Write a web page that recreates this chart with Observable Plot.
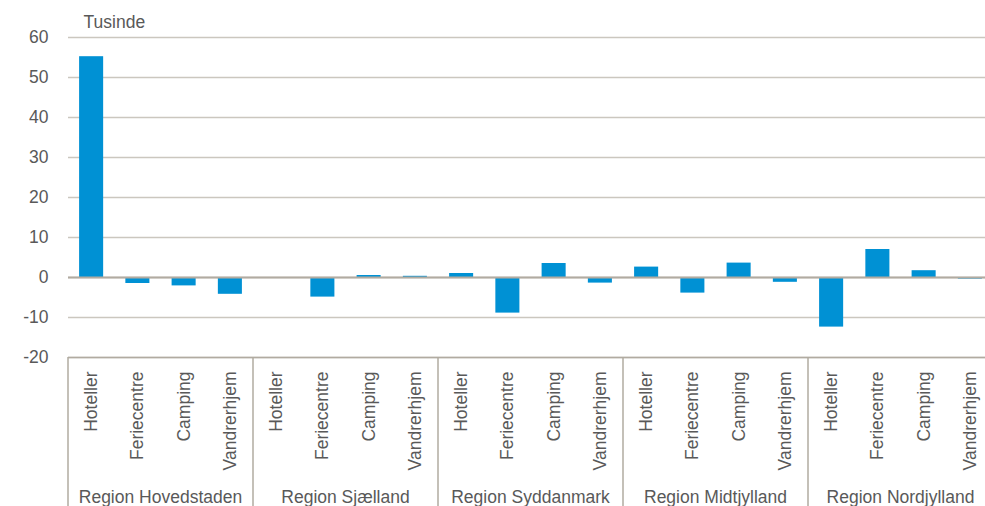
<!DOCTYPE html>
<html>
<head>
<meta charset="utf-8">
<script src="https://cdn.jsdelivr.net/npm/d3@7"></script>
<script src="https://cdn.jsdelivr.net/npm/@observablehq/plot@0.6"></script>
<style>
  html, body { margin: 0; padding: 0; background: #fff; overflow: hidden; }
</style>
</head>
<body>
<div id="chart"></div>
<script>
const regions = ["Region Hovedstaden", "Region Sjælland", "Region Syddanmark", "Region Midtjylland", "Region Nordjylland"];
const categories = ["Hoteller", "Feriecentre", "Camping", "Vandrerhjem"];
const hovedstaden = [55.2, -1.5, -2.1, -4.2];
const sjaelland   = [0.0, -4.9, 0.5, 0.3];
const syddanmark  = [1.0, -8.9, 3.5, -1.4];
const midtjylland = [2.6, -3.9, 3.6, -1.2];
const nordjylland = [-12.4, 7.0, 1.7, -0.4];
const yTicks = [-20, -10, 0, 10, 20, 30, 40, 50, 60];
const yUnit = "Tusinde";

const seriesByRegion = [hovedstaden, sjaelland, syddanmark, midtjylland, nordjylland];
const rows = [];
regions.forEach((r, i) => categories.forEach((c, j) => rows.push({key: r + "|" + c, region: r, cat: c, value: seriesByRegion[i][j]})));
const keys = rows.map(d => d.key);

const W = 985, H = 506;
const gridColor = "#cbc7bf";
const darkLine = "#b1aba1";
const textColor = "#595959";

const plot = Plot.plot({
  width: W,
  height: H,
  marginLeft: 68,
  marginRight: 0,
  marginTop: 37,
  marginBottom: 149,
  style: {fontFamily: "'Liberation Sans', Arial, sans-serif", fontSize: "17px", color: textColor, background: "#fff"},
  x: {domain: keys, range: [68, 993], paddingInner: 0.48, paddingOuter: 0.24, round: false},
  y: {domain: [-20, 60]},
  marks: [
    Plot.gridY(yTicks, {stroke: gridColor, strokeOpacity: 1, strokeWidth: 1.3}),
    Plot.barY(rows, {x: "key", y: "value", fill: "#0091d4"}),
    Plot.ruleY([0], {stroke: darkLine, strokeWidth: 2}),
    Plot.ruleY([-20], {stroke: darkLine, strokeWidth: 1.3}),
    Plot.axisY({ticks: yTicks, tickSize: 0, tickPadding: 20, fontSize: 17.5, label: null, tickFormat: d => String(d)}),
    Plot.axisX({tickRotate: -90, tickSize: 0, tickPadding: 14, fontSize: 17.5, label: null,
                tickFormat: d => d.split("|")[1]}),
    Plot.text([yUnit], {frameAnchor: "top-left", dx: 15, dy: -22, textAnchor: "start", fontSize: 17.5, fill: textColor})
  ]
});

document.getElementById("chart").appendChild(plot);

// group separators and group labels, positioned through Plot's own x scale
const xs = plot.scale("x");
const ys = plot.scale("y");
const step = xs.step, bw = xs.bandwidth;
const svg = d3.select(plot);
const g = svg.append("g");
regions.forEach((r, i) => {
  const firstKey = keys[i * categories.length];
  const x0 = xs.apply(firstKey) - (step - bw) / 2;
  g.append("line")
    .attr("x1", x0).attr("x2", x0)
    .attr("y1", ys.apply(-20)).attr("y2", H)
    .attr("stroke", darkLine).attr("stroke-width", 1.5);
  g.append("text")
    .attr("x", x0 + step * categories.length / 2)
    .attr("y", H - 3)
    .attr("text-anchor", "middle")
    .attr("fill", textColor)
    .attr("font-size", 17.5)
    .text(r);
});
</script>
</body>
</html>
